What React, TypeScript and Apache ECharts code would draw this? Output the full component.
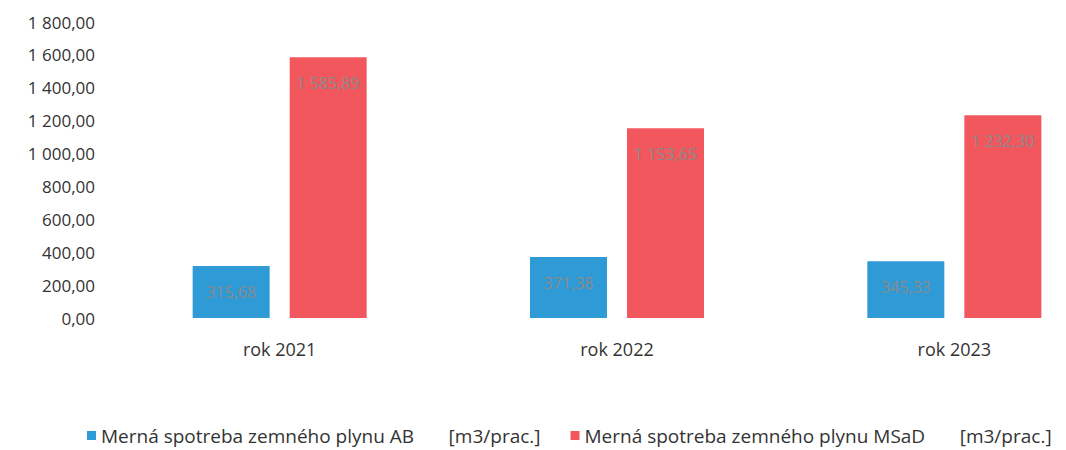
import React, { useEffect, useRef } from "react";
import * as echarts from "echarts";

const categories = ["rok 2021", "rok 2022", "rok 2023"];
const seriesNames = [
  "Merná spotreba zemného plynu AB       [m3/prac.]",
  "Merná spotreba zemného plynu MSaD       [m3/prac.]",
];
const abValues = [315.68, 371.38, 345.33];
const msadValues = [1585.89, 1153.65, 1232.3];
const colors = ["#2e9ad6", "#f2575e"];

const fmt = (v: number) => {
  const [i, d] = v.toFixed(2).split(".");
  return i.replace(/\B(?=(\d{3})+(?!\d))/g, " ") + "," + d;
};

export default function App() {
  const ref = useRef<HTMLDivElement>(null);
  useEffect(() => {
    const chart = echarts.init(ref.current!, undefined, { renderer: "svg" });
    const font = "Open Sans";
    const label = {
      show: true,
      position: "insideTop",
      distance: 18,
      color: "#8a8a8a",
      fontSize: 16,
      fontFamily: font,
      formatter: (p: any) => fmt(p.value),
    };
    chart.setOption({
      animation: false,
      textStyle: { fontFamily: font },
      legend: {
        bottom: 0,
        left: 82,
        itemWidth: 9,
        itemHeight: 9,
        itemGap: 30,
        icon: "rect",
        textStyle: { fontSize: 19, color: "#333", fontFamily: font },
      },
      grid: { left: 111, top: 22, width: 1012, height: 296, containLabel: false },
      xAxis: {
        type: "category",
        data: categories,
        axisLine: { show: false },
        axisTick: { show: false },
        axisLabel: { fontSize: 18, color: "#333", fontFamily: font, margin: 22 },
      },
      yAxis: {
        type: "value",
        min: 0,
        max: 1800,
        interval: 200,
        splitLine: { show: false },
        axisLine: { show: false },
        axisTick: { show: false },
        axisLabel: { fontSize: 17, color: "#333", fontFamily: font, formatter: (v: number) => fmt(v), margin: 16 },
      },
      series: [
        { name: seriesNames[0], type: "bar", data: abValues, itemStyle: { color: colors[0] }, barWidth: 77, barGap: "26%", label },
        { name: seriesNames[1], type: "bar", data: msadValues, itemStyle: { color: colors[1] }, barWidth: 77, label },
      ],
    });
    return () => chart.dispose();
  }, []);
  return (
    <div style={{ position: "absolute", left: 0, top: 0, width: 1066, height: 450, overflow: "hidden" }}>
      <div ref={ref} style={{ width: 1140, height: 450 }} />
    </div>
  );
}
